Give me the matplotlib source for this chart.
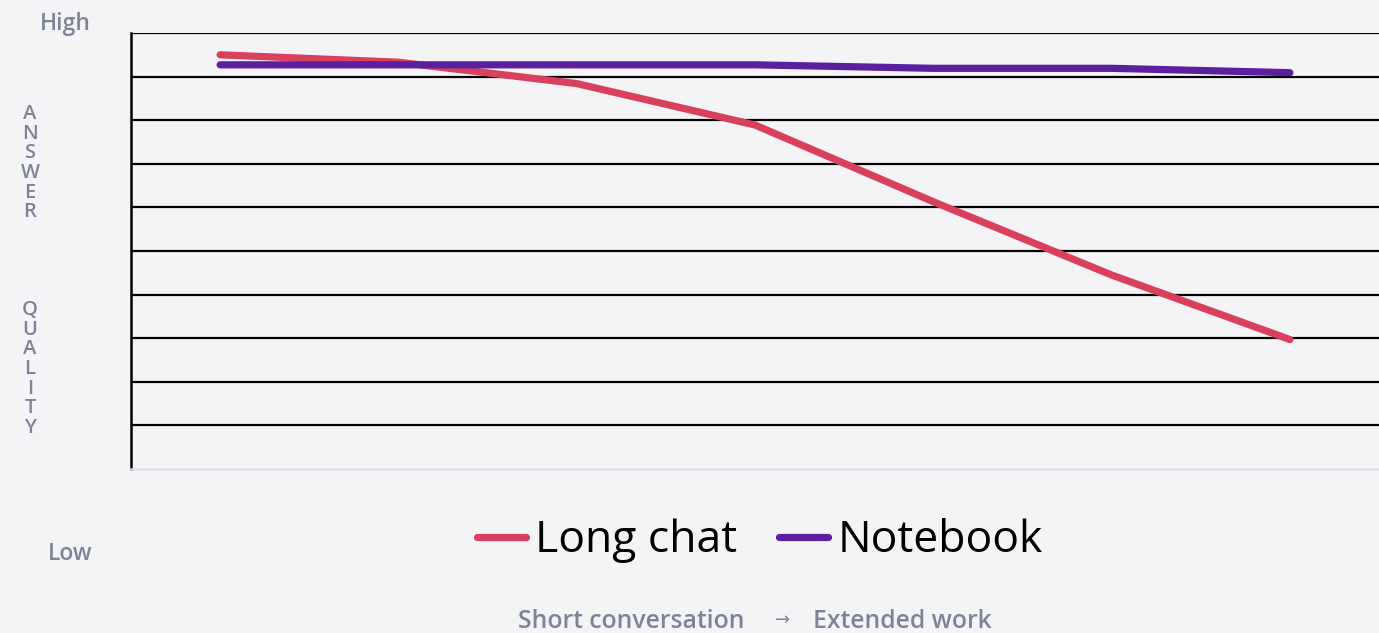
import matplotlib
matplotlib.use("Agg")
import matplotlib.pyplot as plt

# ---------------------------------------------------------------------------
# Data
# ---------------------------------------------------------------------------
stages = ["1", "2", "3", "4", "5", "6", "7"]
long_chat = [95.0, 93.3, 88.4, 78.9, 61.3, 44.5, 29.7]
notebook = [92.7, 92.7, 92.7, 92.7, 91.9, 91.9, 90.9]
series_labels = ["Long chat", "Notebook"]
y_label_text = "ANSWER\n\nQUALITY"
x_label_left = "Short conversation"
x_label_arrow = "\u2192"
x_label_right = "Extended work"

# ---------------------------------------------------------------------------
# Styling
# ---------------------------------------------------------------------------
BG = "#f4f4f7"
RED = "#d9405e"
PURPLE = "#5a20a0"
MUTED = "#7c8597"
FONT = ["Open Sans", "DejaVu Sans"]
W, H = 1379, 633


def fx(px):
    return px / W


def fy(py):
    return 1 - py / H


fig = plt.figure(figsize=(W / 100, H / 100), dpi=100)
fig.patch.set_facecolor(BG)
ax = fig.add_axes([fx(131), 164 / H, 1 - fx(131), 436 / H])
ax.set_facecolor(BG)

x = list(range(len(stages)))
h1, = ax.plot(x, long_chat, color=RED, lw=5.2, solid_capstyle="round",
              solid_joinstyle="round", zorder=3, label=series_labels[0])
h2, = ax.plot(x, notebook, color=PURPLE, lw=5.2, solid_capstyle="round",
              solid_joinstyle="round", zorder=3, label=series_labels[1])

ax.set_xlim(-0.5, len(stages) - 0.5)
ax.set_ylim(0, 100)
ax.set_yticks(range(10, 101, 10))
ax.set_xticks([])
ax.tick_params(axis="y", length=0, labelleft=False)
ax.grid(axis="y", color="black", lw=1.6, zorder=1)

for s in ["top", "right"]:
    ax.spines[s].set_visible(False)
ax.spines["left"].set_color("black")
ax.spines["left"].set_linewidth(1.8)
ax.spines["bottom"].set_color("#e2e1ea")
ax.spines["bottom"].set_linewidth(1.8)

# ---- axis wording ---------------------------------------------------------
fig.text(fx(65), fy(24), "High", ha="center", va="center",
         fontsize=16.5, color=MUTED, fontweight="semibold", family=FONT)
fig.text(fx(70), fy(554), "Low", ha="center", va="center",
         fontsize=16.5, color=MUTED, fontweight="semibold", family=FONT)

letters = "\n".join(y_label_text)
fig.text(fx(30), fy(271), letters, ha="center", va="center",
         fontsize=14.5, color=MUTED, fontweight="semibold", family=FONT,
         linespacing=0.975)

fig.text(fx(745), fy(622), x_label_left, ha="right", va="center",
         fontsize=17.8, color=MUTED, fontweight="semibold", family=FONT)
fig.text(fx(783), fy(620), x_label_arrow, ha="center", va="center",
         fontsize=13, color=MUTED, family=["DejaVu Sans"])
fig.text(fx(813), fy(622), x_label_right, ha="left", va="center",
         fontsize=17.8, color=MUTED, fontweight="semibold", family=FONT)

# ---- legend ---------------------------------------------------------------
leg = fig.legend(handles=[h1, h2], loc="center",
                 bbox_to_anchor=(fx(760), fy(541)), ncol=2,
                 frameon=False, handlelength=1.1, handletextpad=0.2,
                 columnspacing=0.95, prop={"family": FONT, "size": 32})
for line in leg.get_lines():
    line.set_linewidth(5.2)
    line.set_solid_capstyle("round")

fig.savefig("out.png", dpi=100, facecolor=BG)
